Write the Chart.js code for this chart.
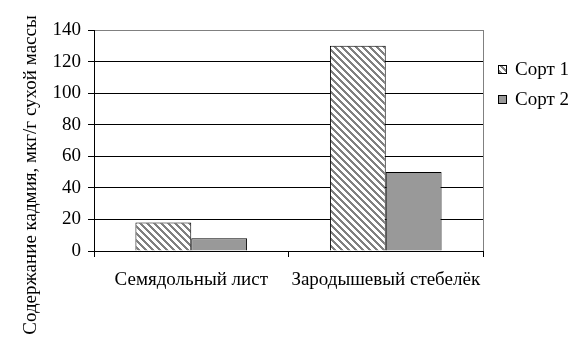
<!DOCTYPE html>
<html>
<head>
<meta charset="utf-8">
<script src="https://cdn.jsdelivr.net/npm/chart.js@4/dist/chart.umd.min.js"></script>
<style>
html,body{margin:0;padding:0;background:#fff;}
#wrap{width:588px;height:346px;position:relative;}
</style>
</head>
<body>
<div id="wrap"><canvas id="c" width="588" height="346"></canvas></div>
<script>
const categories = ["Семядольный лист", "Зародышевый стебелёк"];
const seriesNames = ["Сорт 1", "Сорт 2"];
const sort1 = [18, 130];
const sort2 = [8, 50];
const yTicks = [0, 20, 40, 60, 80, 100, 120, 140];
const yTitle = "Содержание кадмия, мкг/г сухой массы";

const FONT = "'Liberation Serif', 'Times New Roman', serif";
const FS = 19;

function makeHatch() {
  const n = 7;
  const cv = document.createElement('canvas');
  cv.width = n; cv.height = n;
  const cx = cv.getContext('2d');
  const img = cx.createImageData(n, n);
  for (let y = 0; y < n; y++) {
    for (let x = 0; x < n; x++) {
      const k = ((x - y) % n + n) % n;
      const i = (y * n + x) * 4;
      const g = (k < 3) ? 128 : 255;
      img.data[i] = g; img.data[i+1] = g; img.data[i+2] = g; img.data[i+3] = 255;
    }
  }
  cx.putImageData(img, 0, 0);
  return document.getElementById('c').getContext('2d').createPattern(cv, 'repeat');
}
const hatch = makeHatch();

const extras = {
  id: 'extras',
  afterDraw(chart) {
    const ctx = chart.ctx;
    const a = chart.chartArea;
    ctx.save();
    ctx.strokeStyle = '#808080';
    ctx.lineWidth = 1;
    ctx.beginPath();
    ctx.moveTo(Math.round(a.right) + 0.5, a.top);
    ctx.lineTo(Math.round(a.right) + 0.5, a.bottom);
    ctx.stroke();
    ctx.fillStyle = '#000';
    ctx.font = FS + "px " + FONT;
    ctx.textAlign = 'center';
    ctx.textBaseline = 'middle';
    ctx.translate(31, 175);
    ctx.rotate(-Math.PI / 2);
    ctx.fillText(yTitle, 0, 0);
    ctx.restore();
    ctx.save();
    ctx.font = FS + "px " + FONT;
    ctx.textBaseline = 'middle';
    ctx.textAlign = 'left';
    chart.data.datasets.forEach((ds, i) => {
      const bx = Math.round(a.right) + 15;
      const by = 65 + i * 30;
      ctx.fillStyle = ds.backgroundColor;
      ctx.fillRect(bx, by, 9, 9);
      ctx.strokeStyle = '#000';
      ctx.lineWidth = 1;
      ctx.strokeRect(bx + 0.5, by + 0.5, 8, 8);
      ctx.fillStyle = '#000';
      ctx.fillText(ds.label, bx + 17, by + 5);
    });
    ctx.restore();
  }
};

new Chart(document.getElementById('c'), {
  type: 'bar',
  data: {
    labels: categories,
    datasets: [
      { label: seriesNames[0], data: sort1, backgroundColor: hatch, borderColor: '#000', borderWidth: 1, borderSkipped: 'bottom' },
      { label: seriesNames[1], data: sort2, backgroundColor: '#999999', borderColor: '#000', borderWidth: 1, borderSkipped: 'bottom' }
    ]
  },
  options: {
    responsive: false,
    animation: false,
    devicePixelRatio: 1,
    layout: { padding: { top: 30, right: 105, left: 0, bottom: 0 } },
    datasets: { bar: { categoryPercentage: 0.574, barPercentage: 1.0 } },
    plugins: { legend: { display: false }, tooltip: { enabled: false } },
    scales: {
      x: {
        afterFit(s) { s.height = 95; },
        grid: { offset: true, drawOnChartArea: false, color: '#000', tickLength: 6, lineWidth: 1 },
        border: { color: '#000', width: 1 },
        ticks: { color: '#000', font: { family: FONT, size: FS }, padding: 12, maxRotation: 0 }
      },
      y: {
        min: 0, max: 140,
        afterFit(s) { s.width = 94; },
        afterBuildTicks(s) { s.ticks = yTicks.map(v => ({ value: v })); },
        grid: {
          color: (c) => (c.tick && c.tick.value === 140) ? '#808080' : '#000',
          tickColor: '#000',
          tickLength: 6, lineWidth: 1
        },
        border: { color: '#000', width: 1 },
        ticks: { color: '#000', font: { family: FONT, size: FS }, padding: 7 }
      }
    }
  },
  plugins: [extras]
});
</script>
</body>
</html>
